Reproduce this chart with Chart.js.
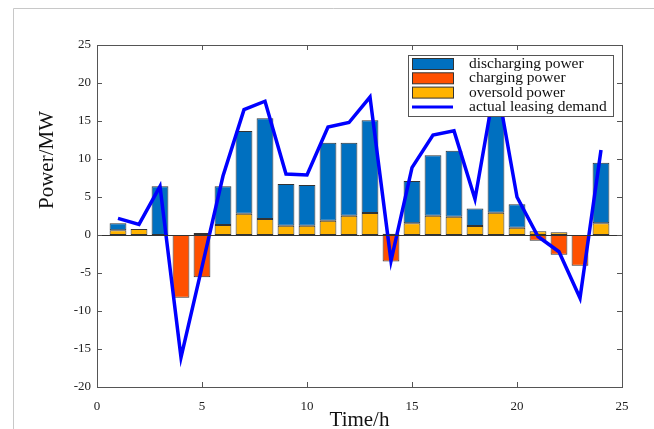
<!DOCTYPE html>
<html>
<head>
<meta charset="utf-8">
<script src="https://cdn.jsdelivr.net/npm/chart.js@4.4.1/dist/chart.umd.min.js"></script>
<style>
  html, body { margin: 0; padding: 0; background: #fff; }
  #wrap { width: 654px; height: 429px; position: relative; }
</style>
</head>
<body>
<div id="wrap"><canvas id="chart" width="654" height="429"></canvas></div>
<script>
// hours 1..24
const hours = [1, 2, 3, 4, 5, 6, 7, 8, 9, 10, 11, 12, 13, 14, 15, 16, 17, 18, 19, 20, 21, 22, 23, 24];

// oversold power (bottom of positive stack)
const oversold = [0.61, 0.79, null, null, 0.26, 1.32, 2.81, 2.1, 1.23, 1.23, 1.89, 2.54,
                  2.89, 0.15, 1.53, 2.54, 2.41, 1.18, 2.94, 0.96, 0.48, 0.35, null, 1.53];

// discharging power (stacked on top of oversold)
const discharging = [0.92, null, 6.4, null, null, 5.08, 10.89, 13.25, 5.47, 5.35, 10.26, 9.61,
                     12.21, null, 5.57, 7.96, 8.69, 2.32, 14.06, 3.07, null, null, null, 7.97];

// charging power (negative)
const charging = [null, null, null, -8.25, -5.57, null, null, null, null, null, null, null,
                  null, -3.5, null, null, null, null, null, null, -0.75, -2.6, -4.03, null];

// actual leasing demand
const demand = [2.19, 1.4, 6.4, -16.1, -4.2, 7.76, 16.5, 17.6, 8.03, 7.9, 14.2, 14.8,
                18.15, -3.4, 8.86, 13.15, 13.7, 4.73, 20.5, 5.0, -0.2, -2.2, -8.3, 11.2];

const xTicks = [0, 5, 10, 15, 20, 25];
const yTicks = [-20, -15, -10, -5, 0, 5, 10, 15, 20, 25];

const legendOrder = ['discharging power', 'charging power', 'oversold power', 'actual leasing demand'];

const SERIF = "'Liberation Serif', 'Times New Roman', serif";

function pts(arr) {
    return hours.map((h, i) => ({ x: h, y: arr[i] }));
}

// frame, inward ticks, y title and legend
const decorPlugin = {
    id: 'decor',
    beforeDraw(chart) {
        const ctx = chart.ctx;
        ctx.save();
        ctx.fillStyle = '#fff';
        ctx.fillRect(0, 0, chart.width, chart.height);
        ctx.strokeStyle = '#c8c8c8';
        ctx.lineWidth = 1;
        ctx.beginPath();
        ctx.moveTo(13.5, chart.height);
        ctx.lineTo(13.5, 8.5);
        ctx.lineTo(chart.width, 8.5);
        ctx.stroke();
        ctx.restore();
    },
    afterDatasetsDraw(chart) {
        const ctx = chart.ctx;
        const a = chart.chartArea;
        const xs = chart.scales.x, ys = chart.scales.y;
        ctx.save();

        // zero line
        ctx.strokeStyle = '#333';
        ctx.lineWidth = 1;
        const y0 = Math.round(ys.getPixelForValue(0)) + 0.5;
        ctx.beginPath();
        ctx.moveTo(a.left, y0);
        ctx.lineTo(a.right, y0);
        ctx.stroke();

        // plot frame
        ctx.strokeStyle = '#555';
        ctx.strokeRect(Math.round(a.left) + 0.5, Math.round(a.top) + 0.5,
                       Math.round(a.right - a.left), Math.round(a.bottom - a.top));

        // inward ticks
        const tl = 5;
        ctx.beginPath();
        xTicks.forEach(v => {
            const px = Math.round(xs.getPixelForValue(v)) + 0.5;
            ctx.moveTo(px, a.bottom); ctx.lineTo(px, a.bottom - tl);
            ctx.moveTo(px, a.top); ctx.lineTo(px, a.top + tl);
        });
        yTicks.forEach(v => {
            const py = Math.round(ys.getPixelForValue(v)) + 0.5;
            ctx.moveTo(a.left, py); ctx.lineTo(a.left + tl, py);
            ctx.moveTo(a.right, py); ctx.lineTo(a.right - tl, py);
        });
        ctx.stroke();

        // legend box
        const lx = 408, ly = 55, lw = 205, lh = 61;
        ctx.fillStyle = '#fff';
        ctx.fillRect(lx, ly, lw, lh);
        ctx.strokeStyle = '#555';
        ctx.strokeRect(lx + 0.5, ly + 0.5, lw, lh);
        ctx.font = '15.5px ' + SERIF;
        ctx.textBaseline = 'middle';
        ctx.textAlign = 'left';
        legendOrder.forEach((name, i) => {
            const ds = chart.data.datasets.find(d => d.label === name);
            const cy = 64 + i * 14.3;
            if (ds.type === 'line') {
                ctx.strokeStyle = ds.borderColor;
                ctx.lineWidth = 3;
                ctx.beginPath();
                ctx.moveTo(412, cy); ctx.lineTo(453, cy);
                ctx.stroke();
            } else {
                ctx.fillStyle = ds.backgroundColor;
                ctx.fillRect(412, cy - 5.5, 41, 11);
                ctx.strokeStyle = '#333';
                ctx.lineWidth = 1;
                ctx.strokeRect(412.5, cy - 5.5, 41, 11);
            }
            ctx.fillStyle = '#111';
            ctx.fillText(name, 469, cy);
        });

        // y axis title
        ctx.translate(47, 160);
        ctx.rotate(-Math.PI / 2);
        ctx.font = '21px ' + SERIF;
        ctx.textAlign = 'center';
        ctx.fillStyle = '#111';
        ctx.fillText('Power/MW', 0, 0);
        ctx.restore();
    }
};

const barCommon = {
    type: 'bar',
    stack: 'bars',
    order: 1,
    borderColor: '#333',
    borderWidth: 1,
    borderSkipped: false,
    barPercentage: 1.0,
    categoryPercentage: 0.8
};

new Chart(document.getElementById('chart'), {
    data: {
        datasets: [
            {
                type: 'line',
                label: 'actual leasing demand',
                data: pts(demand),
                borderColor: '#0000ff',
                borderWidth: 3.5,
                pointRadius: 0,
                tension: 0,
                stack: 'line',
                order: 0
            },
            Object.assign({}, barCommon, {
                label: 'oversold power',
                data: pts(oversold),
                backgroundColor: '#ffb300'
            }),
            Object.assign({}, barCommon, {
                label: 'discharging power',
                data: pts(discharging),
                backgroundColor: '#0070c0'
            }),
            Object.assign({}, barCommon, {
                label: 'charging power',
                data: pts(charging),
                backgroundColor: '#ff5000'
            })
        ]
    },
    options: {
        responsive: false,
        animation: false,
        devicePixelRatio: 1,
        layout: { padding: { left: 0, top: 45, right: 32, bottom: 0 } },
        plugins: {
            legend: { display: false },
            tooltip: { enabled: false }
        },
        scales: {
            x: {
                type: 'linear',
                stacked: true,
                offset: false,
                min: 0,
                max: 25,
                grid: { display: false, drawTicks: false },
                border: { display: false },
                ticks: {
                    stepSize: 5,
                    padding: 12,
                    color: '#222',
                    font: { family: SERIF, size: 13 }
                },
                title: {
                    display: true,
                    text: 'Time/h',
                    color: '#111',
                    font: { family: SERIF, size: 21 },
                    padding: { top: 0, bottom: -4 }
                },
                afterFit(scale) { scale.height = 42; }
            },
            y: {
                stacked: true,
                min: -20,
                max: 25,
                grid: { display: false, drawTicks: false },
                border: { display: false },
                ticks: {
                    stepSize: 5,
                    padding: 6,
                    color: '#222',
                    font: { family: SERIF, size: 13 }
                },
                afterFit(scale) { scale.height; scale.width = 97; }
            }
        }
    },
    plugins: [decorPlugin]
});
</script>
</body>
</html>
